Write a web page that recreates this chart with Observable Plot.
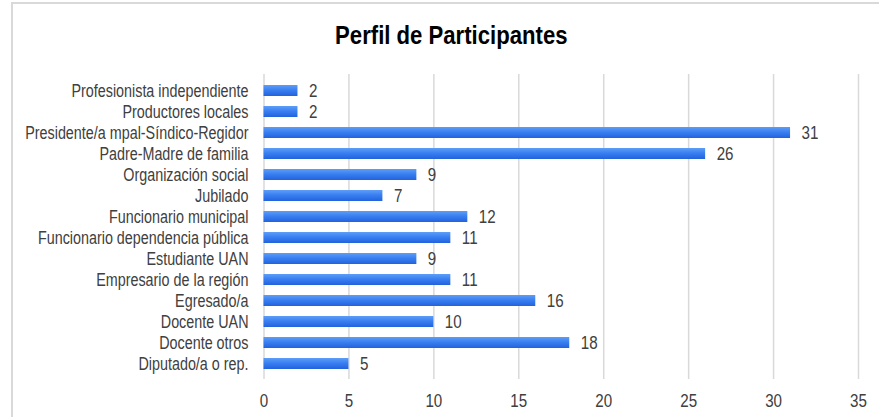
<!DOCTYPE html>
<html><head><meta charset="utf-8">
<script src="https://cdn.jsdelivr.net/npm/d3@7"></script>
<script src="https://cdn.jsdelivr.net/npm/@observablehq/plot@0.6"></script>
<style>
body{margin:0;background:#fff;font-family:"Liberation Sans Narrow","Arial Narrow","Liberation Sans",Arial,sans-serif;}
#wrap{position:relative;width:879px;height:417px;overflow:hidden;}
#frame{position:absolute;left:11px;top:2px;width:900px;height:430px;border:2px solid #d9d9d9;box-sizing:border-box;}
#title{position:absolute;left:0;top:23px;width:903px;text-align:center;font-weight:bold;font-size:25px;line-height:25px;color:#000;}
#title span{display:inline-block;transform:scaleX(0.885);transform-origin:center;}
#chart{position:absolute;left:0;top:60px;}
</style></head>
<body><div id="wrap"><div id="frame"></div><div id="title"><span>Perfil de Participantes</span></div><div id="chart"></div></div>
<script>
const categories = ["Profesionista independiente","Productores locales","Presidente/a mpal-Síndico-Regidor","Padre-Madre de familia","Organización social","Jubilado","Funcionario municipal","Funcionario dependencia pública","Estudiante UAN","Empresario de la región","Egresado/a","Docente UAN","Docente otros","Diputado/a o rep."];
const values = [2,2,31,26,9,7,12,11,9,11,16,10,18,5];
const xTicks = [0,5,10,15,20,25,30,35];
const data = categories.map((c,i)=>({cat:c, v:values[i]}));

const plot = Plot.plot({
  width: 879, height: 357,
  marginLeft: 263.5, marginRight: 21, marginTop: 8.7, marginBottom: 32.7,
  style: {fontFamily: '"Liberation Sans","Arial",sans-serif', color: "#404040", background: "transparent"},
  x: {domain: [0,35], label: null},
  y: {domain: categories, label: null, padding: 0.5},
  marks: [
    Plot.gridX(xTicks, {stroke: "#d9d9d9", strokeOpacity: 1, strokeWidth: 1.5, insetTop: 5.3, insetBottom: 5.3}),
    Plot.axisX(xTicks, {tickSize: 0, tickPadding: 9, fontSize: 18.5, fill: "#404040", label: null}),
    Plot.axisY({tickSize: 0, tickPadding: 15.5, fontSize: 17.5, fill: "#404040", label: null}),
    Plot.barX(data, {x: "v", y: "cat", fill: "url(#barGrad)"}),
    Plot.text(data, {x: "v", y: "cat", text: d => String(d.v), textAnchor: "start", dx: 11, fill: "#404040", fontSize: 18.5})
  ]
});
const ns = "http://www.w3.org/2000/svg";
const defs = document.createElementNS(ns, "defs");
defs.innerHTML = '<linearGradient id="barGrad" x1="0" y1="0" x2="0" y2="1"><stop offset="0" stop-color="#5e9df7"/><stop offset="0.45" stop-color="#3a80f2"/><stop offset="1" stop-color="#2262dc"/></linearGradient>';
plot.insertBefore(defs, plot.firstChild);
// condensed look: narrow each text horizontally about its anchor
plot.querySelectorAll("text").forEach(t => {
  const tr = t.getAttribute("transform");
  if (tr) t.setAttribute("transform", tr + " scale(0.82,1)");
  else {
    const x = +(t.getAttribute("x") || 0);
    t.setAttribute("transform", `translate(${x},0) scale(0.82,1) translate(${-x},0)`);
  }
});
document.getElementById("chart").appendChild(plot);
</script></body></html>
